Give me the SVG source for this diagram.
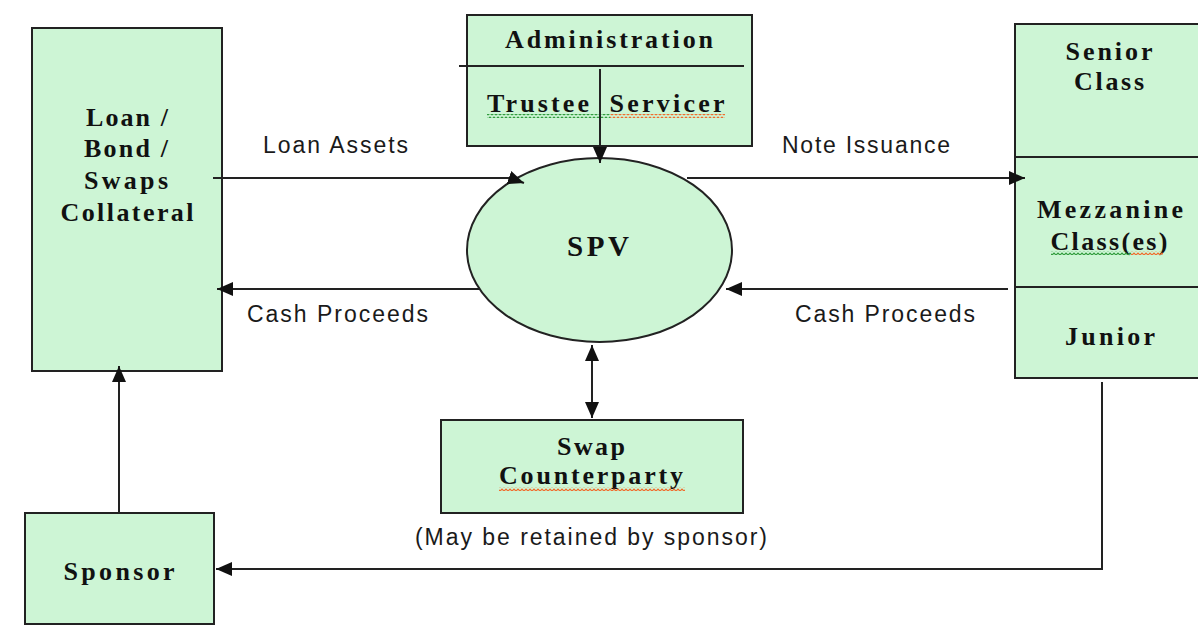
<svg xmlns="http://www.w3.org/2000/svg" width="1198" height="631" viewBox="0 0 1198 631">
  <style>
    .box { fill: #cdf5d5; stroke: #222; stroke-width: 2; }
    .node-text { font-family: "Liberation Serif", "DejaVu Serif", serif; font-weight: bold; font-size: 26px; fill: #111; text-anchor: middle; }
    .label { font-family: "Liberation Sans", Arial, sans-serif; font-size: 23px; fill: #1a1a1a; }
    .conn { fill: none; stroke: #222; stroke-width: 2; }
    .rule { stroke: #222; stroke-width: 2; }
  </style>
  <defs>
    <!-- spell-check style squiggles -->
    <pattern id="squigGreen" width="4" height="4" patternUnits="userSpaceOnUse">
      <path d="M0,3 L2,1 L4,3" fill="none" stroke="#2e9a3a" stroke-width="1.2"/>
    </pattern>
    <pattern id="squigRed" width="4" height="4" patternUnits="userSpaceOnUse">
      <path d="M0,3 L2,1 L4,3" fill="none" stroke="#f06a2a" stroke-width="1.2"/>
    </pattern>
    <marker id="arrow" viewBox="0 0 16 14" refX="16" refY="7" markerWidth="16" markerHeight="14" markerUnits="userSpaceOnUse" orient="auto-start-reverse">
      <path d="M0,0 L16,7 L0,14 z" fill="#111"/>
    </marker>
  </defs>

  <rect width="1198" height="631" fill="#ffffff"/>

  <!-- collateral pool -->
  <g id="collateral">
    <rect class="box" x="32" y="28" width="190" height="343"/>
    <text class="node-text" x="127" y="126" textLength="82" lengthAdjust="spacing">Loan /</text>
    <text class="node-text" x="126" y="157" textLength="84" lengthAdjust="spacing">Bond /</text>
    <text class="node-text" x="126" y="189" textLength="84" lengthAdjust="spacing">Swaps</text>
    <text class="node-text" x="127" y="221" textLength="133" lengthAdjust="spacing">Collateral</text>
  </g>

  <!-- administration -->
  <g id="administration">
    <rect class="box" x="467" y="15" width="285" height="131"/>
    <line class="rule" x1="459" y1="66" x2="744" y2="66"/>
    <text class="node-text" x="609" y="48" textLength="208" lengthAdjust="spacing">Administration</text>
    <text class="node-text" x="538" y="112" textLength="102" lengthAdjust="spacing">Trustee</text>
    <text class="node-text" x="667" y="112" textLength="115" lengthAdjust="spacing">Servicer</text>
    <rect x="487" y="114" width="123" height="4" fill="url(#squigGreen)"/>
    <rect x="610" y="114" width="115" height="4" fill="url(#squigRed)"/>
  </g>

  <!-- special purpose vehicle -->
  <g id="spv">
    <ellipse class="box" cx="599.5" cy="250" rx="132.5" ry="92"/>
    <text class="node-text" x="598" y="256" style="font-size:29px" textLength="62" lengthAdjust="spacing">SPV</text>
  </g>

  <!-- note tranches -->
  <g id="tranches">
    <rect class="box" x="1015" y="24" width="200" height="354"/>
    <line class="rule" x1="1015" y1="157" x2="1215" y2="157"/>
    <line class="rule" x1="1015" y1="287" x2="1215" y2="287"/>
    <text class="node-text" x="1109" y="60" textLength="87" lengthAdjust="spacing">Senior</text>
    <text class="node-text" x="1109" y="90" textLength="70" lengthAdjust="spacing">Class</text>
    <text class="node-text" x="1110" y="218" textLength="146" lengthAdjust="spacing">Mezzanine</text>
    <text class="node-text" x="1109" y="250" textLength="117" lengthAdjust="spacing">Class(es)</text>
    <rect x="1051" y="251" width="80" height="4" fill="url(#squigGreen)"/>
    <rect x="1131" y="251" width="32" height="4" fill="url(#squigRed)"/>
    <text class="node-text" x="1110" y="345" textLength="90" lengthAdjust="spacing">Junior</text>
  </g>

  <!-- swap counterparty -->
  <g id="swap">
    <rect class="box" x="441" y="420" width="302" height="93"/>
    <text class="node-text" x="591" y="455" textLength="68" lengthAdjust="spacing">Swap</text>
    <text class="node-text" x="591" y="484" textLength="184" lengthAdjust="spacing">Counterparty</text>
    <rect x="499" y="487" width="186" height="4" fill="url(#squigRed)"/>
  </g>

  <!-- sponsor -->
  <g id="sponsor">
    <rect class="box" x="25" y="513" width="189" height="111"/>
    <text class="node-text" x="119" y="580" textLength="111" lengthAdjust="spacing">Sponsor</text>
  </g>

  <!-- connectors, drawn over the shapes they touch -->
  <g id="connectors">
    <path class="conn" d="M213,178 L510,178 L524,183" marker-end="url(#arrow)"/>
    <path class="conn" d="M480,289 L217,289" marker-end="url(#arrow)"/>
    <path class="conn" d="M687,178 L1025,178" marker-end="url(#arrow)"/>
    <path class="conn" d="M1008,289 L726,289" marker-end="url(#arrow)"/>
    <path class="conn" d="M600,69 L600,163" marker-end="url(#arrow)"/>
    <path class="conn" d="M592,345 L592,418" marker-start="url(#arrow)" marker-end="url(#arrow)"/>
    <path class="conn" d="M119,513 L119,366" marker-end="url(#arrow)"/>
    <path class="conn" d="M1102,382 L1102,569 L216,569" marker-end="url(#arrow)"/>
  </g>

  <!-- flow labels -->
  <g id="labels">
    <text class="label" x="263" y="153" textLength="145" lengthAdjust="spacing">Loan Assets</text>
    <text class="label" x="247" y="322" textLength="181" lengthAdjust="spacing">Cash Proceeds</text>
    <text class="label" x="782" y="153" textLength="168" lengthAdjust="spacing">Note Issuance</text>
    <text class="label" x="795" y="322" textLength="180" lengthAdjust="spacing">Cash Proceeds</text>
    <text class="label" x="415" y="545" textLength="352" lengthAdjust="spacing">(May be retained by sponsor)</text>
  </g>
</svg>
